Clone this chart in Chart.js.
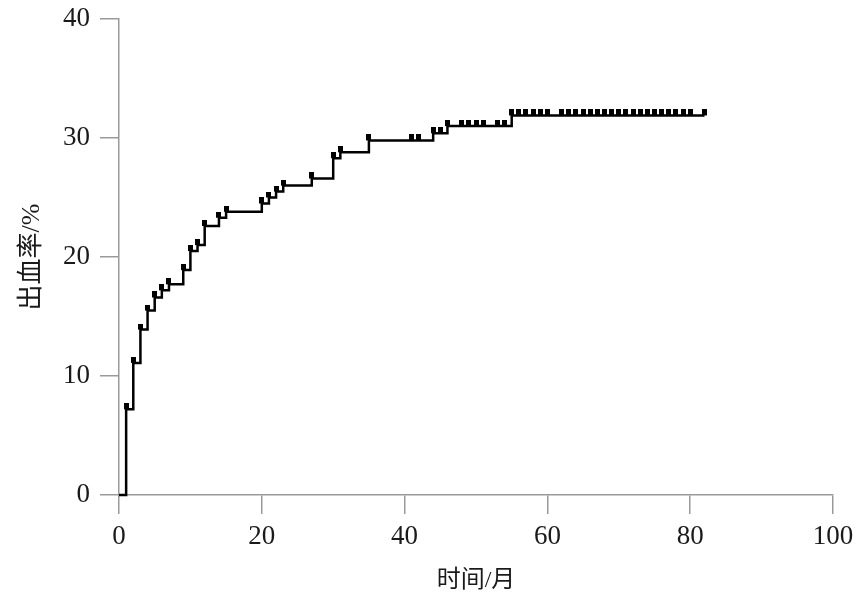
<!DOCTYPE html>
<html>
<head>
<meta charset="utf-8">
<script src="https://cdn.jsdelivr.net/npm/chart.js@4.4.1/dist/chart.umd.min.js"></script>
<style>
html,body{margin:0;padding:0;background:#fff;}
#wrap{width:861px;height:603px;position:relative;}
</style>
</head>
<body>
<div id="wrap"><canvas id="c" width="861" height="603"></canvas></div>
<script>
// Step curve: time (months) where the cumulative rate jumps, and the level after it
const stepTimes = [0, 1, 2, 3, 4, 5, 6, 7, 9, 10, 11, 12, 14, 15, 20, 21, 22, 23, 27, 30, 31, 35, 44, 46, 55, 82];
const stepRates = [0, 7.2, 11.1, 13.9, 15.5, 16.6, 17.2, 17.7, 18.9, 20.5, 21.0, 22.6, 23.3, 23.8, 24.5, 25.0, 25.5, 26.0, 26.6, 28.3, 28.8, 29.8, 30.4, 31.0, 31.9, 31.9];

// Censor marks
const censorTimes = [1, 2, 3, 4, 5, 6, 7, 9, 10, 11, 12, 14, 15, 20, 21, 22, 23, 27, 30, 31, 35, 41, 42, 44, 45, 46, 48, 49, 50, 51, 53, 54,
  55, 56, 57, 58, 59, 60, 62, 63, 64, 65, 66, 67, 68, 69, 70, 71, 72, 73, 74, 75, 76, 77, 78, 79, 80, 82];
const censorRates = [7.2, 11.1, 13.9, 15.5, 16.6, 17.2, 17.7, 18.9, 20.5, 21.0, 22.6, 23.3, 23.8, 24.5, 25.0, 25.5, 26.0, 26.6, 28.3, 28.8, 29.8, 29.8, 29.8, 30.4, 30.4, 31.0, 31.0, 31.0, 31.0, 31.0, 31.0, 31.0,
  31.9, 31.9, 31.9, 31.9, 31.9, 31.9, 31.9, 31.9, 31.9, 31.9, 31.9, 31.9, 31.9, 31.9, 31.9, 31.9, 31.9, 31.9, 31.9, 31.9, 31.9, 31.9, 31.9, 31.9, 31.9, 31.9];

const xTicks = [0, 20, 40, 60, 80, 100];
const yTicks = [0, 10, 20, 30, 40];
const xTitle = '时间/月';
const yTitle = '出血率/%';

// censor mark glyph: small block sitting on top of the line
const mark = document.createElement('canvas');
mark.width = 5; mark.height = 12;
(function(){ const g = mark.getContext('2d'); g.fillStyle = '#000'; g.fillRect(0, 0, 5, 6); })();

const axisColor = '#9a9a9a';
const textColor = '#1a1a1a';
const tickFont = {family: '"Liberation Serif", "Times New Roman", serif', size: 27};
const xTitleFont = {family: '"Liberation Serif", "Noto Sans CJK SC", serif', size: 24};
const yTitleFont = {family: '"Liberation Serif", "Noto Sans CJK SC", serif', size: 26};

new Chart(document.getElementById('c'), {
  type: 'scatter',
  data: {
    datasets: [
      {
        type: 'line',
        data: stepTimes.map((t, i) => ({x: t, y: stepRates[i]})),
        stepped: 'before',
        borderColor: '#000',
        borderWidth: 2.5,
        pointRadius: 0,
        fill: false,
        clip: false
      },
      {
        data: censorTimes.map((t, i) => ({x: t, y: censorRates[i]})),
        pointStyle: mark,
        pointRadius: 3,
        backgroundColor: '#000',
        borderColor: '#000',
        clip: false
      }
    ]
  },
  options: {
    responsive: false,
    animation: false,
    events: [],
    plugins: {legend: {display: false}, tooltip: {enabled: false}},
    layout: {padding: {top: 19, right: 28, left: 0, bottom: 0}},
    scales: {
      x: {
        type: 'linear',
        min: 0, max: 100,
        afterBuildTicks: s => { s.ticks = xTicks.map(v => ({value: v})); },
        afterFit: s => { s.height = 108; s.paddingLeft = 0; s.paddingRight = 0; },
        grid: {drawOnChartArea: false, drawTicks: true, tickLength: 19, color: axisColor, lineWidth: 1.5},
        border: {display: true, color: axisColor, width: 1.5},
        ticks: {font: tickFont, color: textColor, padding: 7, maxRotation: 0},
        title: {display: true, text: xTitle, font: xTitleFont, color: textColor, padding: {top: 4, bottom: 8}}
      },
      y: {
        type: 'linear',
        min: 0, max: 40,
        afterBuildTicks: s => { s.ticks = yTicks.map(v => ({value: v})); },
        afterFit: s => { s.width = 119; s.paddingTop = 0; s.paddingBottom = 0; },
        grid: {drawOnChartArea: false, drawTicks: true, tickLength: 19, color: axisColor, lineWidth: 1.5},
        border: {display: true, color: axisColor, width: 1.5},
        ticks: {font: tickFont, color: textColor, padding: 10},
        title: {display: true, text: yTitle, font: yTitleFont, color: textColor, padding: {top: 17, bottom: 0}}
      }
    }
  }
});
</script>
</body>
</html>
